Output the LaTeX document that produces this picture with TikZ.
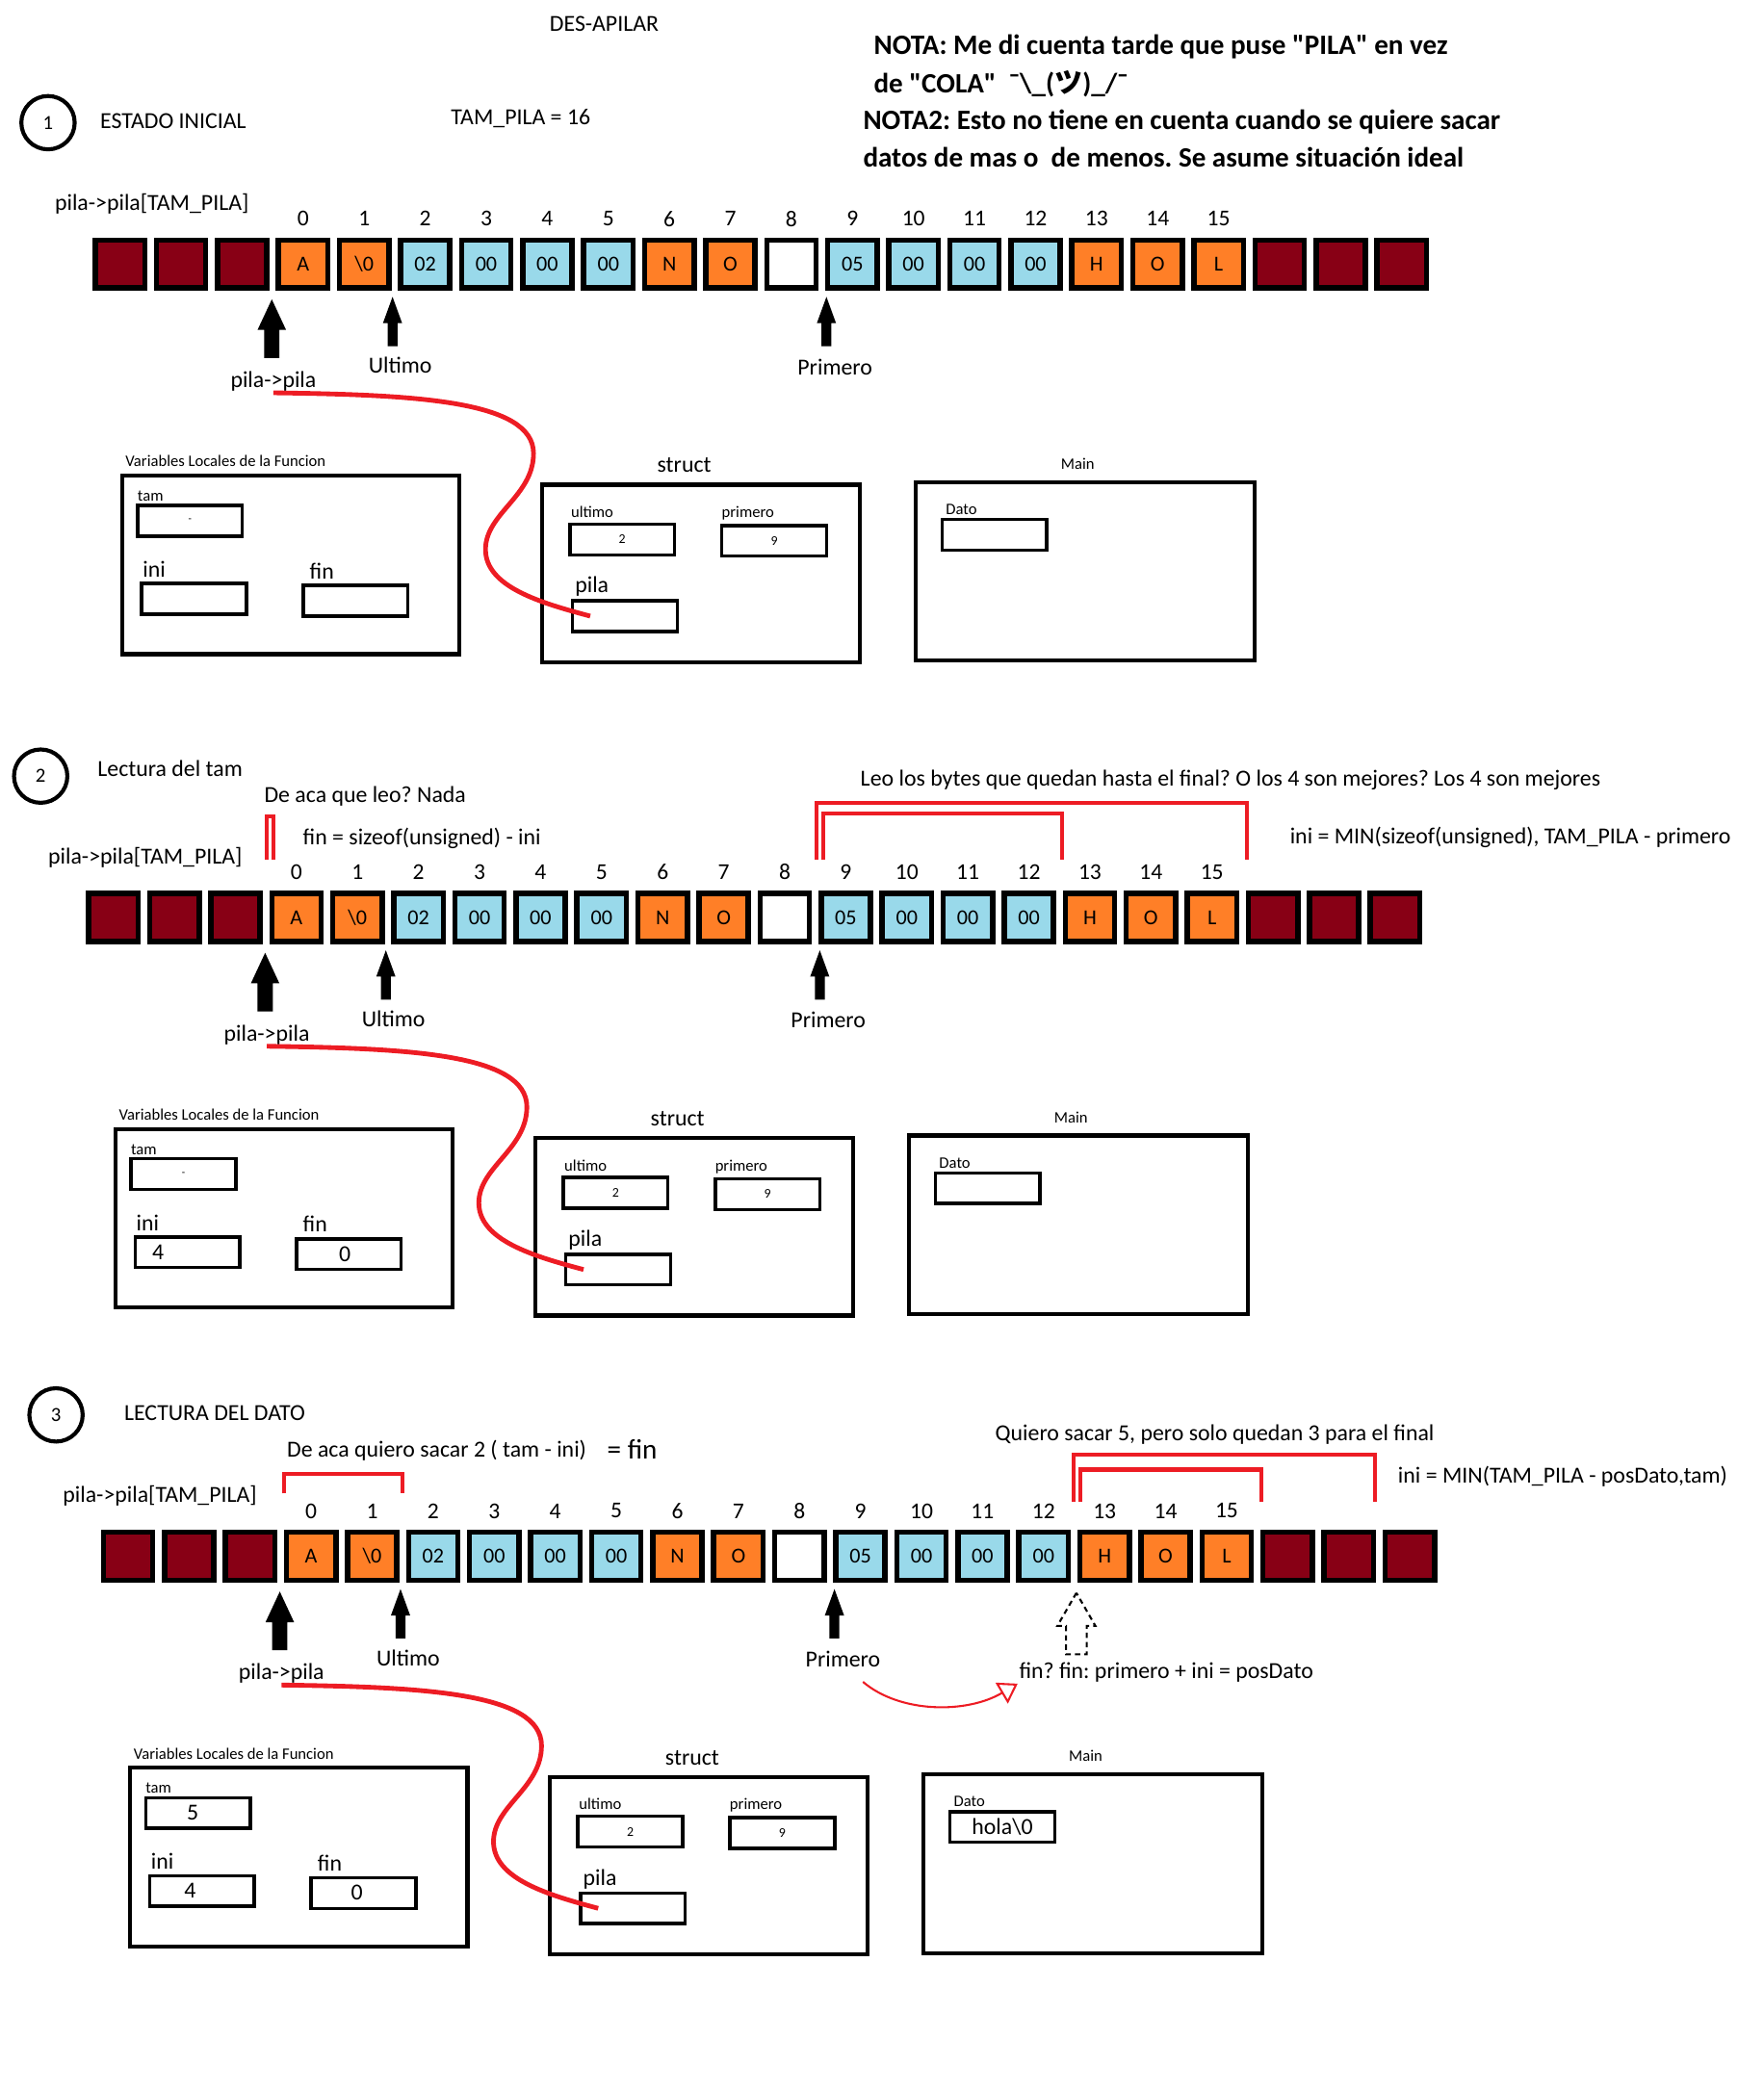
\documentclass[tikz,border=0pt]{standalone}
\usepackage{fontspec}
\setmainfont{Carlito}[Ligatures=TeXOff]
\newfontfamily\cjk{Noto Sans CJK JP}
\usetikzlibrary{shapes.arrows,arrows.meta}
\frenchspacing

\definecolor{oscuro}{RGB}{136,0,21}
\definecolor{naranja}{RGB}{255,127,39}
\definecolor{celeste}{RGB}{153,217,234}
\definecolor{rojo}{RGB}{237,28,36}

% un estado completo: pila, punteros y variables (#1 = prefijo de nombres)
\newcommand{\estado}[1]{%
  \node[celda,fill=oscuro] (#1c0) at (90,198) {};
  \foreach \txt/\col [count=\i, remember=\i as \j (initially 0)] in
      {/oscuro,/oscuro,A/naranja,\textbackslash0/naranja,02/celeste,00/celeste,00/celeste,00/celeste,
       N/naranja,O/naranja,/white,05/celeste,00/celeste,00/celeste,00/celeste,H/naranja,O/naranja,L/naranja,
       /oscuro,/oscuro,/oscuro}
    \node[celda,fill=\col] (#1c\i) [right of=#1c\j] {\txt};
  \foreach \m [evaluate=\m as \k using int(\m+3)] in {0,...,15}
    \node[indice] (#1i\m) [above of=#1c\k] {\m};
  \node[texto,anchor=west] (#1arr) at (40,153) {pila->pila[TAM\_PILA]};
  % punteros
  \node[flechaG] (#1fpp)  at ([xshift=-3pt,yshift=-6pt]#1c3.south west) {};
  \node[flechaC] (#1fult) at ([xshift=-4pt,yshift=-4pt]#1c5.south west) {};
  \node[flechaC] (#1fpri) at ([xshift=1pt,yshift=-4pt]#1c12.south west) {};
  \node[texto] (#1pp)  at (205,286) {pila->pila};
  \node[texto] (#1ult) at (300,274) {Ultimo};
  \node[texto] (#1pri) at (626,275) {Primero};
  % variables locales
  \node[caja,minimum width=253pt,minimum height=134pt] (#1var) at (218,423.5) {};
  \node[chico] (#1tvar) at (94,346) {Variables Locales de la Funcion};
  \node[chico] (#1ttam) at (103,372) {tam};
  \node[cajita] (#1btam) at (142.5,390.5) {};
  \node[texto,anchor=west] (#1tini) at (106,427) {ini};
  \node[cajita] (#1bini) at (145.5,449) {};
  \node[texto,anchor=west] (#1tfin) at (231,428) {fin};
  \node[cajita] (#1bfin) at (266.5,450.5) {};
  % struct
  \node[caja,minimum width=238pt,minimum height=133pt] (#1str) at (525.5,430) {};
  \node[texto] (#1tstr) at (513,349) {struct};
  \node[chico] (#1tult) at (428,384) {ultimo};
  \node[cajita,font=\fontsize{10}{10}\selectfont] (#1bult) at (466.5,404.5) {2};
  \node[chico] (#1tpri) at (541,385) {primero};
  \node[cajita,font=\fontsize{10}{10}\selectfont] (#1bpri) at (580.5,405.5) {9};
  \node[texto,anchor=west] (#1tpila) at (430,440) {pila};
  \node[cajita] (#1bpila) at (468.5,462) {};
  % main
  \node[caja,minimum width=254pt,minimum height=134pt] (#1main) at (813.5,428.5) {};
  \node[chico,anchor=center] (#1tmain) at (808,348) {Main};
  \node[chico] (#1tdato) at (709,382) {Dato};
  \node[cajita] (#1bdato) at (745.5,401) {};
  % pila->pila apunta a pila
  \draw[curva] (#1pp.south) .. controls (310,296) and (400,300) .. (400,340)
        .. controls (400,372) and (364,385) .. (364,412)
        .. controls (364,440) and (405,452) .. ([xshift=-26pt]#1bpila.center);
}

\begin{document}
\begin{tikzpicture}[x=1pt,y=-1pt,node distance=45.76pt]
  \tikzstyle{celda}=[draw=black,line width=4pt,minimum width=37pt,minimum height=36pt,inner sep=0pt,font=\fontsize{16}{16}\selectfont]
  \tikzstyle{indice}=[font=\fontsize{17}{17}\selectfont,node distance=34pt,inner sep=0pt]
  \tikzstyle{texto}=[font=\fontsize{17.2}{17.2}\selectfont,inner sep=1pt]
  \tikzstyle{grande}=[font=\fontsize{21}{21}\selectfont,inner sep=1pt]
  \tikzstyle{chico}=[font=\fontsize{12}{12}\selectfont,inner sep=0pt,anchor=west]
  \tikzstyle{mini}=[font=\fontsize{8}{8}\selectfont,inner sep=0pt]
  \tikzstyle{nota}=[font=\fontsize{21}{21}\selectfont\bfseries,inner sep=0pt,anchor=west]
  \tikzstyle{caja}=[draw=black,line width=3pt,inner sep=0pt]
  \tikzstyle{cajita}=[draw=black,line width=2.5pt,minimum width=78.5pt,minimum height=23pt,inner sep=0pt]
  \tikzstyle{circulo}=[draw=black,circle,line width=3pt,minimum size=40pt,inner sep=0pt,font=\fontsize{15}{15}\selectfont]
  \tikzstyle{flechaG}=[single arrow,fill=black,rotate=90,anchor=tip,minimum height=44pt,
                       inner xsep=0pt,inner ysep=5.5pt,single arrow head extend=5pt,single arrow tip angle=50]
  \tikzstyle{flechaC}=[single arrow,fill=black,rotate=90,anchor=tip,minimum height=37pt,
                       inner xsep=0pt,inner ysep=3.5pt,single arrow head extend=3.5pt,single arrow tip angle=40]
  \tikzstyle{hueca}=[single arrow,draw=black,line width=1.5pt,dash pattern=on 4pt off 3pt,rotate=90,anchor=tip,
                     minimum height=46pt,inner xsep=0pt,inner ysep=7pt,
                     single arrow head extend=6.5pt,single arrow tip angle=60]
  \tikzstyle{curva}=[draw=rojo,line width=3.5pt]
  \tikzstyle{corchete}=[draw=rojo,line width=3pt]

  \useasboundingbox (0,0) rectangle (1322,1568);

  % 1 - estado inicial
  \node[texto] (titulo) at (453,18) {DES-APILAR};
  \node[circulo] (n1) at (36,92) {1};
  \node[texto,anchor=west] (e1) at (74,91) {ESTADO INICIAL};
  \node[texto,anchor=west] (tampila) at (337,89) {TAM\_PILA = 16};
  \node[nota] (nota1) at (655,35) {NOTA: Me di cuenta tarde que puse "PILA" en vez};
  \node[nota] (nota2) at (655,63) {de "COLA"\ \ ¯\textbackslash\_({\cjk ツ})\_/¯};
  \node[nota] (nota3) at (647,91.5) {NOTA2: Esto no tiene en cuenta cuando se quiere sacar};
  \node[nota] (nota4) at (647,118) {datos de mas o\ \ de menos. Se asume situación ideal};
  \begin{scope}
    \estado{a}
  \end{scope}
  \node[mini] at (abtam.center) {-};

  % 2 - lectura del tam
  \begin{scope}[shift={(-5,490)}]
    \estado{b}
  \end{scope}
  \node[circulo] (n2) at (30.5,582) {2};
  \node[texto,anchor=west] (e2) at (72,576) {Lectura del tam};
  \node[texto,anchor=west] (nada) at (197,597) {De aca que leo? Nada};
  \node[texto,anchor=west] (fin2) at (226,629) {fin = sizeof(unsigned) - ini};
  \node[texto,anchor=west] (leo) at (644,585) {Leo los bytes que quedan hasta el final? O los 4 son mejores? Los 4 son mejores};
  \node[texto,anchor=west] (ini2) at (966,628) {ini = MIN(sizeof(unsigned), TAM\_PILA - primero};
  \draw[corchete] (200,645) -- (200,612) -- (205,612) -- (205,645);
  \draw[corchete] (612,645) -- (612,602) -- (935,602) -- (935,645);
  \draw[corchete] (617,645) -- (617,610) -- (796,610) -- (796,645);
  \node[mini] at (bbtam.center) {-};
  \node[texto] at ([xshift=-22pt]bbini.center) {4};
  \node[texto] at ([xshift=-3pt]bbfin.center) {0};

  % 3 - lectura del dato
  \begin{scope}[shift={(6,969)}]
    \estado{c}
  \end{scope}
  \node[circulo] (n3) at (42,1061) {3};
  \node[texto,anchor=west] (e3) at (92,1060) {LECTURA DEL DATO};
  \node[texto,anchor=west] (saco) at (214,1088) {De aca quiero sacar 2 ( tam - ini)};
  \node[grande] (igual) at (474,1087) {= fin};
  \node[texto,anchor=west] (quiero) at (745,1076) {Quiero sacar 5, pero solo quedan 3 para el final};
  \node[texto,anchor=west] (ini3) at (1047,1107) {ini = MIN(TAM\_PILA - posDato,tam)};
  \draw[corchete] (213,1120) -- (213,1105) -- (302,1105) -- (302,1120);
  \draw[corchete] (805,1126) -- (805,1091) -- (1031,1091) -- (1031,1126);
  \draw[corchete] (810,1126) -- (810,1102) -- (946,1102) -- (946,1126);
  \node[hueca] (cfin) at (807,1193) {};
  \node[texto,anchor=west] (pos) at (763,1254) {fin? fin: primero + ini = posDato};
  \draw[curva,line width=1.5pt,-{Triangle[open,length=14pt,width=18pt]}]
        ([xshift=15pt,yshift=-10pt]cpri.south) .. controls (675,1285) and (725,1285) .. (pos.south west);
  \node[texto] at ([xshift=-4pt]cbtam.center) {5};
  \node[texto] at ([xshift=-9pt]cbini.center) {4};
  \node[texto] at ([xshift=-5pt]cbfin.center) {0};
  \node[texto] at (cbdato.center) {hola\textbackslash0};
\end{tikzpicture}
\end{document}
